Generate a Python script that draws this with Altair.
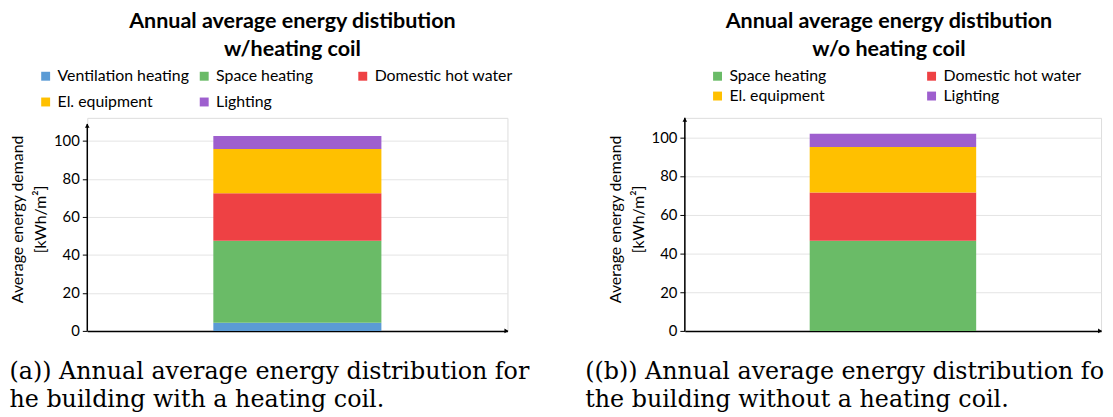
import altair as alt
import pandas as pd

# ---- data ----
cats_a = ["Ventilation heating", "Space heating", "Domestic hot water", "El. equipment", "Lighting"]
vals_a = [4.3, 43.2, 25.0, 23.3, 6.8]
cats_b = ["Space heating", "Domestic hot water", "El. equipment", "Lighting"]
vals_b = [46.5, 25.0, 23.5, 6.8]

color_map = {
    "Ventilation heating": "#5B9BD5",
    "Space heating": "#6ABB67",
    "Domestic hot water": "#EE4144",
    "El. equipment": "#FFC000",
    "Lighting": "#9E5FCE",
}

title_a = ["Annual average energy distibution", "w/heating coil"]
title_b = ["Annual average energy distibution", "w/o heating coil"]
caption_a = ["(a)) Annual average energy distribution for", "he building with a heating coil."]
caption_b = ["((b)) Annual average energy distribution fo", "the building without a heating coil."]
y_title = ["Average energy demand", "[kWh/m\u00b2]"]
y_ticks = [0, 20, 40, 60, 80, 100]

FONT = "Lato"
H = 215


def panel(cats, vals, title, caption, ymax, yarrow, w, cols, leg_x, col_pad, row_pad, title_dx, cap_x):
    df = pd.DataFrame({
        "case": ["all"] * len(cats),
        "category": cats,
        "value": vals,
        "order": list(range(len(cats))),
    })
    yscale = alt.Scale(domain=[0, ymax], nice=False, zero=True)
    bars = alt.Chart(df).mark_bar().encode(
        x=alt.X("case:N",
                scale=alt.Scale(paddingInner=0, paddingOuter=0.75),
                axis=alt.Axis(labels=False, ticks=False, domain=True,
                              domainColor="black", domainWidth=1.5,
                              title=caption, titleFont="DejaVu Serif",
                              titleFontSize=24, titleFontWeight="normal",
                              titleAnchor="start", titleAlign="left",
                              titleX=cap_x, titleY=29, titleBaseline="top",
                              titleLineHeight=28, titleColor="black")),
        y=alt.Y("value:Q", stack="zero", scale=yscale,
                axis=alt.Axis(values=y_ticks, grid=True, gridColor="#e4e4e4",
                              gridWidth=1, domain=False, ticks=True,
                              tickSize=5, tickColor="black", tickWidth=1,
                              labelFont=FONT, labelFontSize=15,
                              labelColor="black", labelPadding=3,
                              title=y_title, titleFont=FONT,
                              titleFontSize=16, titleFontWeight="normal",
                              titleColor="black", titleLineHeight=23,
                              titleAngle=-90, titleX=-62, titleY=102,
                              titleBaseline="bottom", titleAlign="center")),
        color=alt.Color("category:N",
                        scale=alt.Scale(domain=cats, range=[color_map[c] for c in cats]),
                        legend=alt.Legend(title=None, orient="none",
                                          legendX=leg_x, legendY=-50,
                                          direction="horizontal", columns=cols,
                                          gridAlign="all", columnPadding=col_pad,
                                          rowPadding=row_pad, symbolType="square",
                                          symbolSize=81, symbolStrokeWidth=0,
                                          labelFont=FONT, labelFontSize=16,
                                          labelColor="black", labelOffset=4)),
        order=alt.Order("order:Q"),
    )
    base = alt.Chart(df.head(1))
    yline = base.mark_rule(color="black", strokeWidth=1.5).encode(
        x=alt.value(0), y=alt.datum(0), y2=alt.datum(yarrow))
    yhead = base.mark_point(shape="triangle-up", filled=True, color="black",
                            size=22, opacity=1).encode(
        x=alt.value(0), y=alt.datum(yarrow - 1.0))
    xhead = base.mark_point(shape="triangle-right", filled=True, color="black",
                            size=22, opacity=1).encode(
        x=alt.value(w - 1), y=alt.value(H))
    return alt.layer(bars, yline, yhead, xhead).properties(
        width=w, height=H,
        title=alt.TitleParams(text=title, font=FONT, fontSize=21.7,
                              fontWeight="bold", color="black",
                              lineHeight=28, anchor="middle", frame="group",
                              dx=title_dx, offset=8),
    )


left = panel(cats_a, vals_a, title_a, caption_a, ymax=112.2, yarrow=109.0, w=424,
             cols=3, leg_x=-50, col_pad=0, row_pad=10, title_dx=-5, cap_x=-79)
right = panel(cats_b, vals_b, title_b, caption_b, ymax=110.0, yarrow=110.0, w=420,
              cols=2, leg_x=25, col_pad=56, row_pad=4, title_dx=-4, cap_x=-101)

chart = alt.hconcat(left, right, spacing=179, bounds="flush").resolve_scale(
    color="independent", x="independent", y="independent"
).properties(padding=0).configure_view(
    strokeWidth=0, stroke="transparent").configure(font=FONT)

chart.save("out.html", embed_options={"renderer": "svg", "actions": False})
